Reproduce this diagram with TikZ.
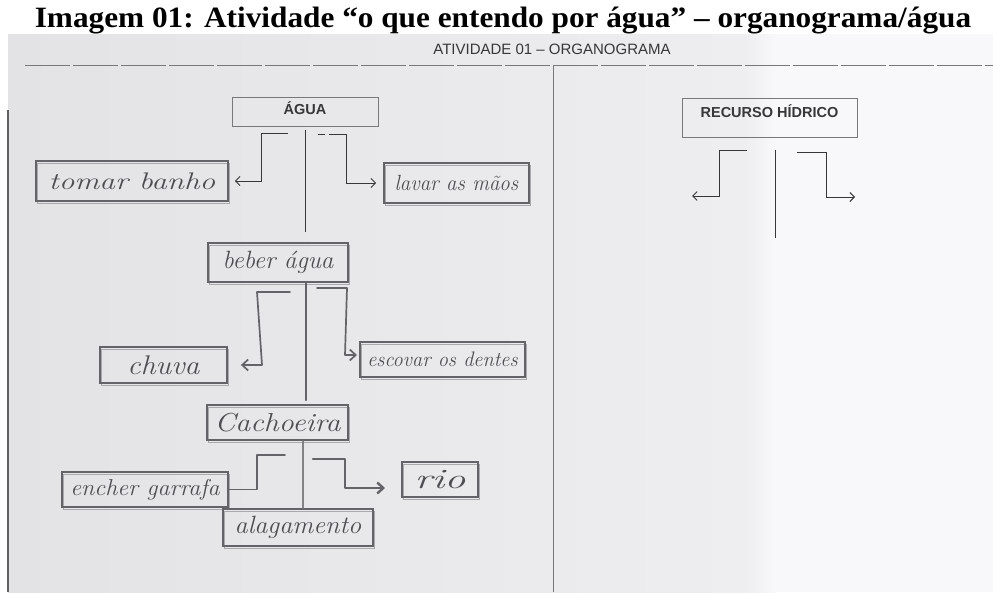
\documentclass[tikz,border=0pt]{standalone}
\usepackage{fontspec}
\usepackage{graphicx}
\usetikzlibrary{arrows.meta}
\newfontfamily\titlefont{Liberation Serif}
\newfontfamily\printfont{Liberation Sans}
\definecolor{pencil}{RGB}{100,100,104}
\definecolor{pencilT}{RGB}{78,78,82}
\definecolor{printc}{RGB}{55,55,58}
\definecolor{printbox}{RGB}{120,120,124}
\definecolor{paperL}{RGB}{227,227,230}
\definecolor{paperM}{RGB}{238,238,241}
\definecolor{paperR}{RGB}{248,248,250}
\newcommand{\hw}[2]{\scalebox{#1}[1]{#2}}
\begin{document}
\begin{tikzpicture}[x=1pt,y=-1pt,
  printline/.style={draw=printc, line width=0.9pt},
  printarrow/.style={printline, -{Straight Barb[length=4.5pt,width=9pt]}},
  pencilline/.style={draw=pencil, line width=1.7pt, line cap=round, line join=round},
  pencilarrow/.style={pencilline, -{Straight Barb[length=6pt,width=11pt]}},
  hwbox/.style={draw=pencil, line width=1.8pt, inner sep=0pt, text=pencilT,
    preaction={draw=pencil!55, line width=0.9pt, transform canvas={shift={(1.5pt,-2pt)}}},
    font=\fontsize{24}{24}\selectfont\itshape},
  pbox/.style={draw=printbox, line width=0.8pt, inner sep=0pt, text=printc,
    font=\printfont\bfseries\fontsize{14.5}{14.5}\selectfont}]
\clip (0,0) rectangle (993,592);
\fill[white] (0,0) rectangle (993,592);
\shade[left color=paperL, right color=paperM] (8,34) rectangle (745,592);
\shade[left color=paperM, right color=paperR] (745,34) rectangle (775,592);
\fill[paperR] (775,34) rectangle (993,592);

% caption
\node[font=\titlefont\bfseries\fontsize{29.5}{29.5}\selectfont, anchor=base, inner sep=0pt] (title) at (503,27)
  {\scalebox{1.06}[1]{Imagem 01: Atividade “o que entendo por água” – organograma/água}};

% worksheet frame
\node[font=\printfont\fontsize{15}{15}\selectfont, text=printc] (header) at (552,49) {ATIVIDADE 01 – ORGANOGRAMA};
\draw[draw=printbox, line width=0.9pt, dash pattern=on 45pt off 3pt] (25,65) -- (993,65);
\draw[draw=printbox, line width=0.9pt] (553,65) -- (553,592);
\draw[draw=gray!75!black, line width=1.2pt] (8,110) -- (8,592);

% printed boxes
\node[pbox, minimum width=146pt, minimum height=29pt, text height=10.4pt, text depth=5pt] (agua) at (305,111.5) {ÁGUA};
\node[pbox, minimum width=175pt, minimum height=39pt, text height=10.4pt, text depth=10pt] (recurso) at (769.5,117.5) {RECURSO HÍDRICO};

% handwritten boxes
\node[hwbox, minimum width=192pt, minimum height=40pt] (tomar) at (132,181) {\hw{1.3}{tomar banho}};
\node[hwbox, minimum width=145pt, minimum height=40pt, font=\fontsize{22}{22}\selectfont\itshape] (lavar) at (456.5,183) {\hw{0.95}{lavar as mãos}};
\node[hwbox, minimum width=140pt, minimum height=39pt, font=\fontsize{25}{25}\selectfont\itshape] (beber) at (278,262.5) {\hw{1.0}{beber água}};
\node[hwbox, minimum width=127pt, minimum height=36pt, font=\fontsize{27}{27}\selectfont\itshape] (chuva) at (163.5,365) {\hw{1.1}{chuva}};
\node[hwbox, minimum width=165pt, minimum height=35pt, font=\fontsize{21}{21}\selectfont\itshape] (escovar) at (442.5,359.5) {\hw{0.97}{escovar os dentes}};
\node[hwbox, minimum width=141pt, minimum height=35pt, font=\fontsize{26}{26}\selectfont\itshape] (cachoeira) at (277.5,422.5) {\hw{1.15}{Cachoeira}};
\node[hwbox, minimum width=166pt, minimum height=35pt, font=\fontsize{23}{23}\selectfont\itshape] (encher) at (145,489.5) {\hw{1.05}{encher garrafa}};
\node[hwbox, minimum width=76pt, minimum height=35pt, font=\fontsize{28}{28}\selectfont\itshape] (rio) at (440,479.5) {\hw{1.5}{rio}};
\node[hwbox, minimum width=150pt, minimum height=37pt, font=\fontsize{25}{25}\selectfont\itshape] (alagamento) at (298,527.5) {\hw{1.05}{alagamento}};

% level 1 printed connectors (from ÁGUA)
\coordinate (a0) at (305,130); \coordinate (a1) at (305,232);
\coordinate (aL0) at (288,133); \coordinate (aL1) at (261,133); \coordinate (aL2) at (261,181);
\coordinate (aR0) at (329,134); \coordinate (aR1) at (346,134); \coordinate (aR2) at (346,183);
\coordinate (aRd0) at (318,134); \coordinate (aRd1) at (325,134);
\draw[printline] (a0) -- (a1);
\draw[printarrow] (aL0) -- (aL1) -- (aL2) -- ([xshift=6pt]tomar.east);
\draw[printline] (aRd0) -- (aRd1);
\draw[printarrow] (aR0) -- (aR1) -- (aR2) -- ([xshift=-7pt]lavar.west);

% level 2 pencil connectors (from beber água)
\coordinate (b0) at (306,283); \coordinate (b1) at (306,400);
\coordinate (bL0) at (290,292); \coordinate (bL1) at (257,292); \coordinate (bL2) at (262,365);
\coordinate (bR0) at (317,288); \coordinate (bR1) at (347,288); \coordinate (bR2) at (345,355);
\coordinate (bRe) at (357,355);
\draw[pencilline, line width=2.4pt] (b0) -- (b1);
\draw[pencilarrow] (bL0) -- (bL1) -- (bL2) -- ([xshift=13pt]chuva.east);
\draw[pencilarrow] (bR0) -- (bR1) -- (bR2) -- (bRe);

% level 3 pencil connectors (from Cachoeira)
\coordinate (c0) at (303,441); \coordinate (c1) at (303,508);
\coordinate (cL0) at (285,455); \coordinate (cL1) at (257,455); \coordinate (cL2) at (257,489.5);
\coordinate (cR0) at (313,459); \coordinate (cR1) at (345,459); \coordinate (cR2) at (345,488);
\coordinate (cRe) at (385,488);
\draw[pencilline, line width=1.2pt, draw=pencil!80] (c0) -- (c1);
\draw[pencilline] (cL0) -- (cL1) -- (cL2) -- (encher.east);
\draw[pencilarrow, line width=2.4pt] (cR0) -- (cR1) -- (cR2) -- (cRe);

% right side printed connectors (from RECURSO HÍDRICO)
\coordinate (r0) at (775,150); \coordinate (r1) at (775,238);
\coordinate (rL0) at (747,150); \coordinate (rL1) at (719,150); \coordinate (rL2) at (719,196); \coordinate (rLe) at (692,196);
\coordinate (rR0) at (797,152); \coordinate (rR1) at (826,152); \coordinate (rR2) at (826,197); \coordinate (rRe) at (855,197);
\draw[printline] (r0) -- (r1);
\draw[printarrow] (rL0) -- (rL1) -- (rL2) -- (rLe);
\draw[printarrow] (rR0) -- (rR1) -- (rR2) -- (rRe);
\end{tikzpicture}
\end{document}
